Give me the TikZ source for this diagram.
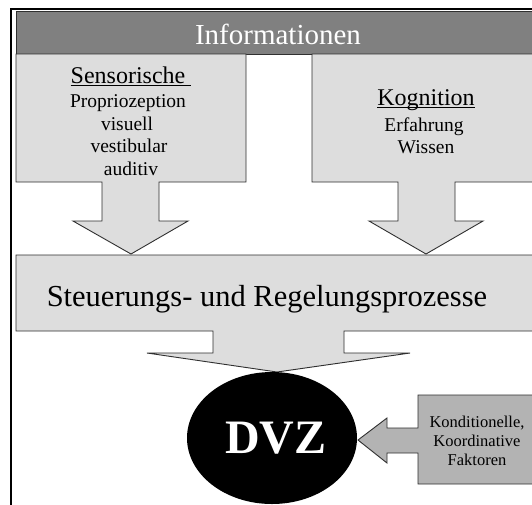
\documentclass[tikz,border=0pt]{standalone}
\usepackage{fontspec}
\setmainfont{Liberation Serif}
\definecolor{bardark}{HTML}{808080}
\definecolor{boxlight}{HTML}{DDDDDD}
\definecolor{boxmid}{HTML}{B3B3B3}
\definecolor{edge}{HTML}{303030}
\newcommand\myul[1]{\setbox0\hbox{#1}\rlap{\rule[-2.6pt]{\wd0}{0.9pt}}\box0}
\tikzset{
  shapebox/.style={fill=boxlight, draw=edge, line width=0.9pt, line join=miter},
  midbox/.style={fill=boxmid, draw=edge, line width=0.9pt, line join=miter},
  txt/.style={anchor=base, inner sep=0pt, text=black},
  headfont/.style={font=\fontsize{24}{28}\selectfont},
  itemfont/.style={font=\fontsize{19.5}{23}\selectfont},
  smallfont/.style={font=\fontsize{16.5}{19}\selectfont}
}
\begin{document}
\begin{tikzpicture}[x=1pt,y=-1pt]
\useasboundingbox (0,0) rectangle (532,504);
\clip (0,0) rectangle (532,504);
\fill[white] (0,0) rectangle (532,504);
% outer frame
\draw[black, line width=2pt] (11,520) -- (11,9) -- (545,9);
% Informationen bar
\draw[fill=bardark, draw=edge, line width=0.9pt] (16,11) rectangle (545,54);
\node[txt, text=white, font=\fontsize{29}{34}\selectfont] (info) at (278,44) {Informationen};
% Sensorische box with arrow
\draw[shapebox] (16,54) -- (246,54) -- (246,182) -- (159,182) -- (159,221) -- (188,221)
  -- (131,254) -- (73,221) -- (102,221) -- (102,182) -- (16,182) -- cycle;
% Kognition box with arrow
\draw[shapebox] (312,54) -- (545,54) -- (545,182) -- (455,182) -- (455,221) -- (483,221)
  -- (426,254) -- (369,221) -- (398,221) -- (398,182) -- (312,182) -- cycle;
% Steuerung box with arrow
\draw[shapebox] (16,255) -- (545,255) -- (545,331) -- (344,331) -- (344,353) -- (410,353)
  -- (277,372) -- (147,353) -- (213,353) -- (213,331) -- (16,331) -- cycle;
% right box with left arrow
\draw[midbox] (418,395) -- (545,395) -- (545,484) -- (418,484) -- (418,453) -- (387,453)
  -- (387,463) -- (358,440) -- (387,418) -- (387,428) -- (418,428) -- cycle;
% DVZ ellipse
\fill[black] (272,438) ellipse (85pt and 66pt);
\node[txt, text=white, font=\fontsize{48}{54}\selectfont\bfseries] (dvz) at (276,453) {DVZ};
% texts
\node[txt, headfont] (sens) at (131,83) {\myul{Sensorische\ }};
\node[txt, itemfont] (prop) at (128,107) {Propriozeption};
\node[txt, itemfont] (vis) at (127,130) {visuell};
\node[txt, itemfont] (vest) at (129,152) {vestibular};
\node[txt, itemfont] (aud) at (131,175) {auditiv};
\node[txt, headfont] (kog) at (426,105) {\myul{Kognition}};
\node[txt, itemfont] (erf) at (424,131) {Erfahrung};
\node[txt, itemfont] (wis) at (426,153) {Wissen};
\node[txt, font=\fontsize{30.5}{36}\selectfont] (steu) at (267,306) {Steuerungs- und Regelungsprozesse};
\node[txt, smallfont] (k1) at (477,427) {Konditionelle,};
\node[txt, smallfont] (k2) at (477,446) {Koordinative};
\node[txt, smallfont] (k3) at (477,465) {Faktoren};
\end{tikzpicture}
\end{document}
